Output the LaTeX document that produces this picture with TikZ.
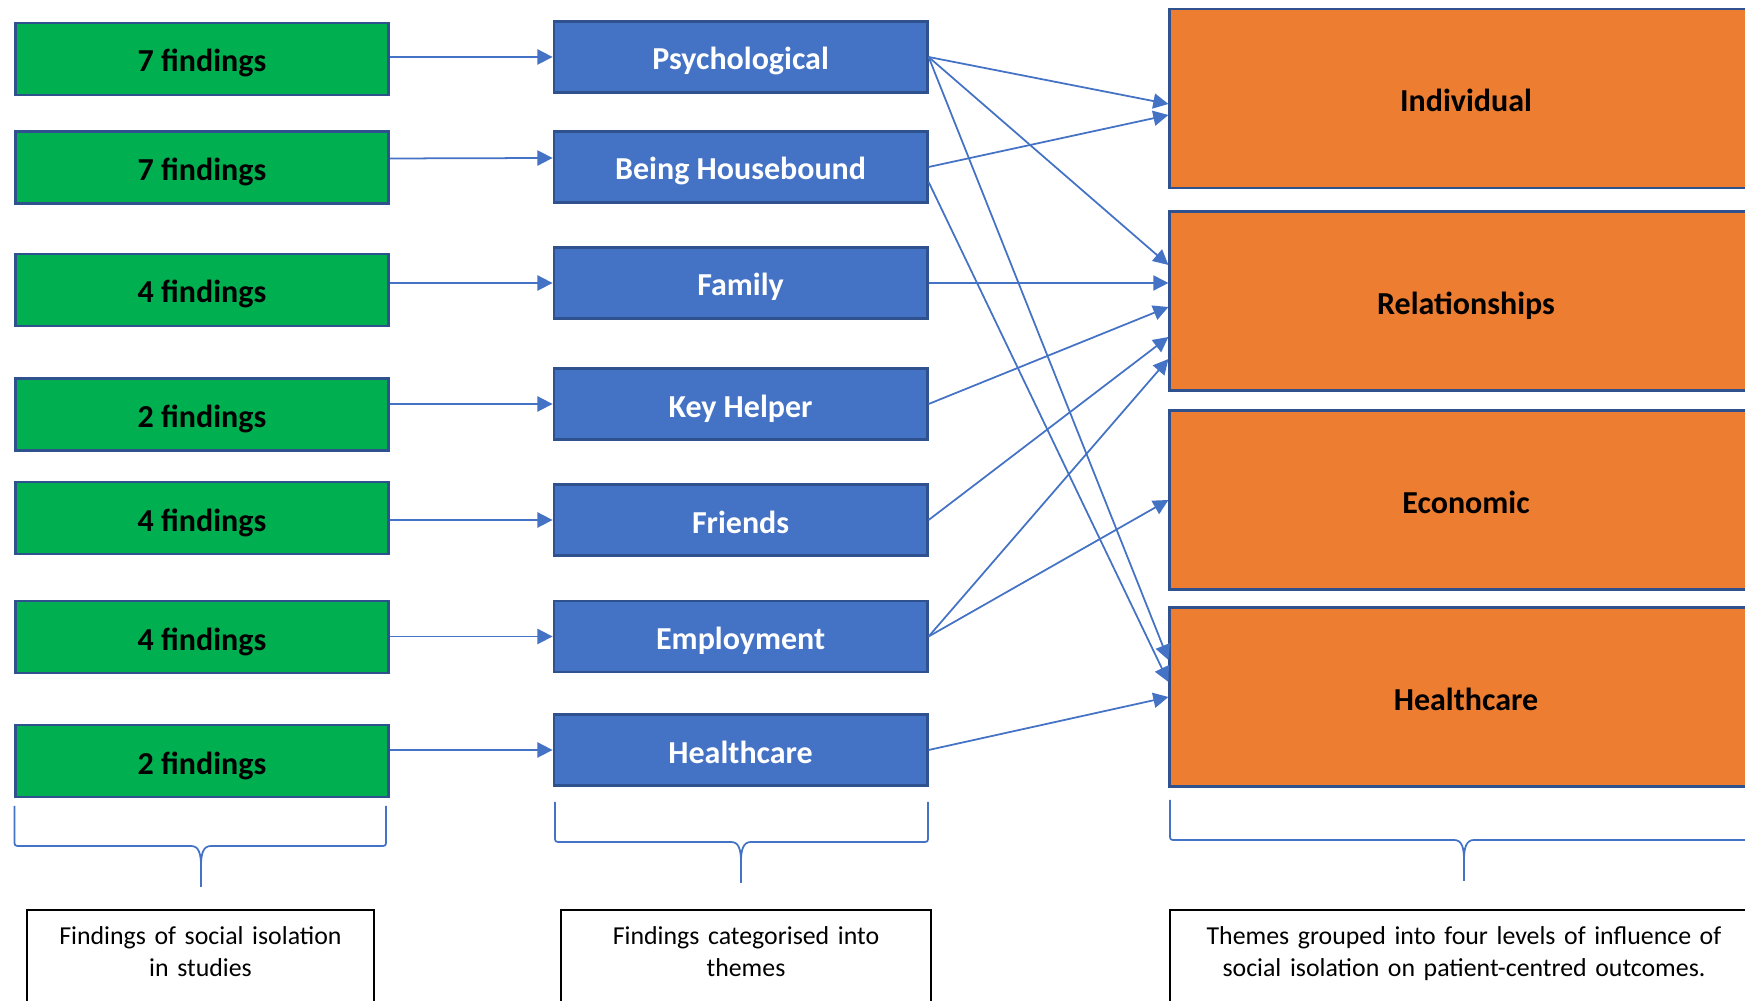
\documentclass[tikz,border=0pt]{standalone}
\usepackage{fontspec}
\setmainfont{Carlito}
\usetikzlibrary{arrows.meta}

\definecolor{findgreen}{HTML}{00B050}
\definecolor{themeblue}{HTML}{4472C4}
\definecolor{levelorange}{HTML}{ED7D31}
\definecolor{edgeblue}{HTML}{2F528F}

\begin{document}
\begin{tikzpicture}[x=0.01cm, y=-0.01cm,
	findbox/.style={rectangle, draw=edgeblue, line width=0.8pt, fill=findgreen, minimum width=3.73cm, minimum height=0.72cm, text height=8.4pt, text depth=1pt, font=\fontsize{9.1}{11}\selectfont\bfseries},
	themebox/.style={rectangle, draw=edgeblue, line width=0.8pt, fill=themeblue, text=white, minimum width=3.73cm, minimum height=0.71cm, text height=8.4pt, text depth=1pt, font=\fontsize{9.1}{11}\selectfont\bfseries},
	levelbox/.style={rectangle, draw=edgeblue, line width=0.8pt, fill=levelorange, minimum width=5.92cm, minimum height=1.79cm, text height=8.4pt, text depth=1pt, font=\fontsize{9.1}{11}\selectfont\bfseries},
	link/.style={draw=themeblue, line width=0.5pt, -{Triangle[length=4.3pt, width=4.3pt]}},
	curly/.style={draw=themeblue, line width=0.5pt},
	capbox/.style={rectangle, draw=black, line width=0.6pt, anchor=north, align=center, inner xsep=0pt, inner ysep=0.16cm, text depth=1cm, font=\fontsize{7.35}{9.1}\selectfont}]
		\path[use as bounding box, clip] (0,0) rectangle (1745,1001);
		% findings
		\node[findbox] (g1) at (202,59) {7 findings};
		\node[findbox] (g2) at (202,167.5) {7 findings};
		\node[findbox] (g3) at (202,290) {4 findings};
		\node[findbox] (g4) at (202,414.5) {2 findings};
		\node[findbox] (g5) at (202,518) {4 findings};
		\node[findbox] (g6) at (202,637) {4 findings};
		\node[findbox] (g7) at (202,761) {2 findings};
		% themes
		\node[themebox] (b1) at (740.6,57) {Psychological};
		\node[themebox] (b2) at (740.6,167) {Being Housebound};
		\node[themebox] (b3) at (740.6,283) {Family};
		\node[themebox] (b4) at (740.6,404) {Key Helper};
		\node[themebox] (b5) at (740.6,520) {Friends};
		\node[themebox] (b6) at (740.6,636.5) {Employment};
		\node[themebox] (b7) at (740.6,750) {Healthcare};
		% levels
		\node[levelbox] (o1) at (1466,98.5) {Individual};
		\node[levelbox] (o2) at (1466,301) {Relationships};
		\node[levelbox] (o3) at (1466,500) {Economic};
		\node[levelbox] (o4) at (1466,697) {Healthcare};
		% findings -> themes
		\draw[link] (g1.east |- b1.west) -- (b1.west);
		\draw[link] ([yshift=0.09cm]g2.east) -- ([yshift=0.09cm]b2.west);
		\draw[link] (g3.east |- b3.west) -- (b3.west);
		\draw[link] (g4.east |- b4.west) -- (b4.west);
		\draw[link] (g5.east |- b5.west) -- (b5.west);
		\draw[link] (g6.east |- b6.west) -- (b6.west);
		\draw[link] (g7.east |- b7.west) -- (b7.west);
		% themes -> levels
		\draw[link] (b1.east) -- ([yshift=-0.055cm]o1.west);
		\draw[link] (b1.east) -- ([yshift=0.36cm]o2.west);
		\draw[link] (b1.east) -- ([yshift=0.37cm]o4.west);
		\draw[link] (b2.east) -- ([yshift=-0.165cm]o1.west);
		\draw[link] ([yshift=-0.15cm]b2.east) -- ([yshift=0.15cm]o4.west);
		\draw[link] (b3.east) -- (b3.east -| o2.west);
		\draw[link] (b4.east) -- ([yshift=-0.06cm]o2.west);
		\draw[link] (b5.east) -- ([yshift=-0.36cm]o2.west);
		\draw[link] (b6.east) -- ([yshift=-0.58cm]o2.west);
		\draw[link] (b6.east) -- (o3.west);
		\draw[link] (b7.east) -- (o4.west);
		% braces
		\foreach \l/\r/\t/\m in {14.5/386/806/201, 555/928/802/741, 1170/1758/800/1464}{
			\draw[curly] (\l,\t) -- (\l,\t+34) .. controls (\l,\t+40) .. (\l+6,\t+40) -- (\m-10,\t+40) .. controls (\m-2,\t+40) and (\m,\t+48) .. (\m,\t+60) -- (\m,\t+81);
			\draw[curly] (\m,\t+60) .. controls (\m,\t+48) and (\m+2,\t+40) .. (\m+10,\t+40) -- (\r-6,\t+40) .. controls (\r,\t+40) .. (\r,\t+34) -- (\r,\t);
		}
		% captions
		\node[capbox, text width=3.47cm] (c1) at (200.5,909) {Findings of social isolation\\in studies};
		\node[capbox, text width=3.70cm] (c2) at (746,909) {Findings categorised into\\themes};
		\node[capbox, text width=5.88cm] (c3) at (1464,909) {Themes grouped into four levels of influence of\\social isolation on patient-centred outcomes.};
	\end{tikzpicture}
\end{document}
